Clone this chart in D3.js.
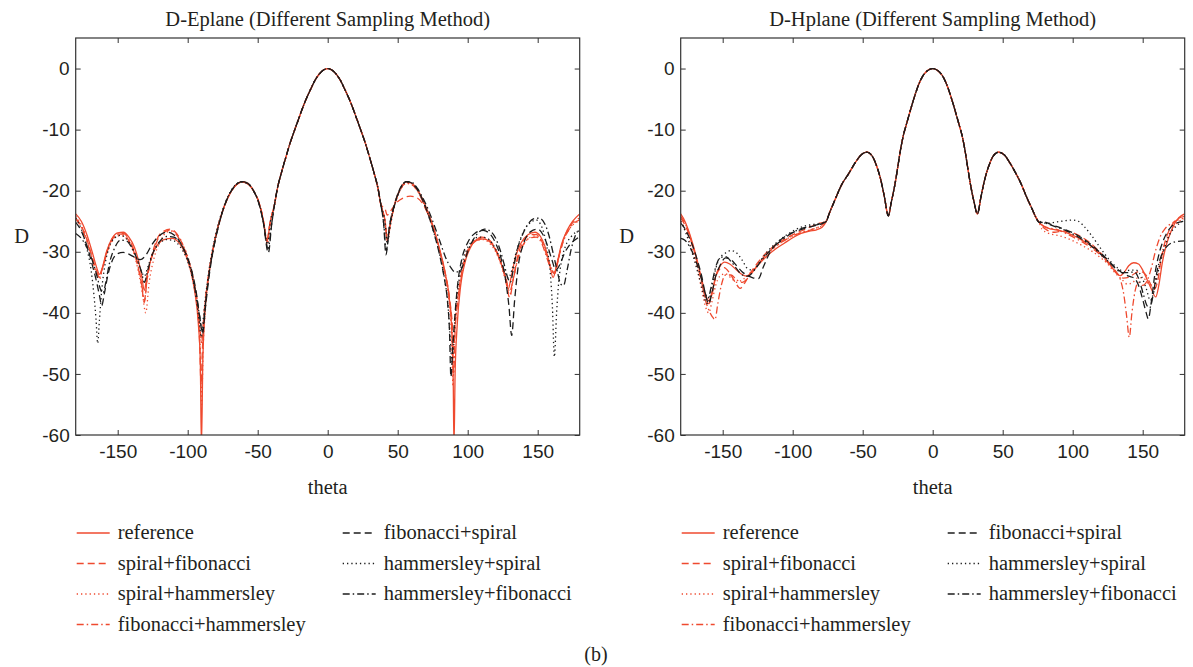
<!DOCTYPE html>
<html>
<head>
<meta charset="utf-8">
<script src="https://cdn.jsdelivr.net/npm/d3@7"></script>
<style>
  body { margin: 0; background: #fff; }
  svg { display: block; font-family: "Liberation Serif", "DejaVu Serif", serif; }
  .tick line { stroke: #333; }
  .tick text { fill: #231f20; font-size: 19px; }
</style>
</head>
<body>
<svg id="fig" width="1193" height="667"></svg>
<script>
// series names, legend order
const seriesNames = ['reference', 'spiral+fibonacci', 'spiral+hammersley', 'fibonacci+hammersley',
    'fibonacci+spiral', 'hammersley+spiral', 'hammersley+fibonacci']

const xTicks = [-150, -100, -50, 0, 50, 100, 150]
const yTicks = [-60, -50, -40, -30, -20, -10, 0]

// ---- E-plane, main lobe (same for all methods), [theta, D]
const eMain = [[-38,-22.3],[-36,-19.7],[-33,-17],[-30,-14.6],[-27,-12.3],[-24,-10.3],[-21,-8.4],[-18,-6.5],[-15,-4.8],[-12,-3.3],[-9,-1.9],[-6,-0.9],[-3,-0.25],[0,0],[3,-0.25],[6,-0.9],[9,-1.9],[12,-3.3],[15,-4.8],[18,-6.5],[21,-8.4],[24,-10.3],[27,-12.3],[30,-14.6],[33,-17],[36,-19.7],[38,-22.3]]

const eRefL = [[-180,-23.8],[-176,-25],[-172,-27.2],[-168,-30.2],[-165,-32.6],[-163,-33.7],[-161,-32.6],[-158,-30],[-154,-27.8],[-150,-26.9],[-146,-26.8],[-142,-27.6],[-138,-29.3],[-135,-31.6],[-133,-33.8],[-131,-36.3],[-129,-33.8],[-126,-31],[-122,-29],[-117,-28],[-111,-27.8],[-106,-28.6],[-102,-30.2],[-98,-33],[-95,-36.5],[-92.5,-41.5],[-91,-48],[-90.2,-62],[-89.2,-48],[-88,-41],[-85,-34],[-81,-28.5],[-76,-24],[-71,-21],[-66,-19.2],[-61,-18.5],[-57,-18.8],[-53,-20],[-49,-22],[-46,-24.8],[-43.4,-28.4],[-41,-25]]
const eRefR = [[41,-25],[42.5,-28.3],[45,-25.2],[48,-22],[52,-19.6],[56,-18.6],[60,-18.8],[64,-19.8],[68,-21.5],[72,-23.7],[76,-26.3],[80,-29.6],[84,-33.6],[87,-38],[88.8,-44],[89.7,-52],[90.2,-62],[91,-50],[92.5,-42],[95,-35.5],[98,-31.8],[102,-29.3],[106,-28.2],[111,-27.9],[116,-28.4],[120,-29.8],[124,-32],[127,-34.2],[129,-36.1],[131,-34.2],[134,-31],[138,-28.6],[143,-27.2],[148,-26.8],[152,-27.5],[155,-29],[158,-31.5],[161,-34.2],[163.5,-32.2],[167,-28.8],[171,-26.5],[175,-25],[180,-23.8]]

const eSFL = [[-180,-24.5],[-176,-25.8],[-172,-28],[-168,-31],[-165,-33.2],[-163,-34],[-161,-32.8],[-158,-30.3],[-154,-28],[-150,-27.1],[-146,-27.1],[-142,-28.2],[-138,-30.3],[-135,-33],[-133,-35.3],[-131,-38.3],[-129,-34.5],[-126,-31],[-122,-28],[-117,-26.6],[-112,-26.3],[-108,-27],[-104,-28.6],[-100,-31],[-96,-34.5],[-93,-39],[-91.3,-46],[-90.5,-52],[-89.5,-46],[-88,-40],[-85,-33.8],[-81,-28.5],[-76,-24],[-71,-21],[-66,-19.2],[-61,-18.6],[-57,-18.9],[-53,-20],[-49,-22],[-46,-24.8],[-43.4,-28],[-41,-25]]
const eSFR = [[41,-23],[42.5,-24],[45,-23.3],[49,-22],[54,-21.2],[59,-20.9],[64,-21.2],[68,-22.2],[72,-24],[76,-26.5],[80,-29.8],[84,-33.5],[87,-37.5],[89,-42],[90,-46],[91,-42],[93,-37.5],[96,-33],[100,-29.8],[105,-28.2],[110,-27.6],[115,-28],[120,-29.6],[124,-32],[127,-34.5],[130,-37.5],[132.5,-34.5],[136,-30.5],[140,-28.2],[145,-27.2],[149,-27.2],[153,-28.3],[156,-30.2],[159,-32.4],[162,-33.6],[165,-31],[168,-28.3],[172,-26.2],[176,-25],[180,-24.5]]

const eSHL = [[-180,-24.2],[-176,-25.6],[-172,-28],[-168,-31.3],[-165,-33.8],[-163,-34.5],[-161,-33],[-158,-30.5],[-154,-28.3],[-150,-27.4],[-146,-27.4],[-142,-28.5],[-138,-30.6],[-135,-33.5],[-132.5,-36.5],[-130,-40],[-127.5,-35],[-124,-31],[-120,-28.5],[-115,-26.8],[-111,-26.6],[-107,-27.3],[-103,-29],[-99,-31.5],[-95.5,-35],[-92.5,-40],[-91,-46],[-90,-55],[-89,-46],[-87.5,-40],[-85,-34],[-81,-28.6],[-76,-24.1],[-71,-21],[-66,-19.2],[-61,-18.6],[-57,-18.9],[-53,-20],[-49,-22.1],[-46,-25],[-43.2,-28.8],[-41,-25.2]]
const eSHR = [[41,-25],[42.5,-28],[45,-25.3],[48,-22.3],[52,-19.8],[56,-18.8],[60,-19],[64,-20],[68,-21.8],[72,-24],[76,-26.7],[80,-30],[84,-34],[86.5,-38],[88.5,-44],[89.5,-52],[90.5,-44],[92,-39],[95,-34],[98,-31],[102,-29],[106,-28.2],[111,-28],[116,-28.7],[120,-30],[124,-32.3],[127,-34.6],[130,-37],[132.5,-34.5],[136,-31],[140,-28.8],[145,-27.6],[149,-27.4],[153,-28.4],[156,-30.3],[159,-32.3],[162,-33.2],[165,-30.8],[168,-28.4],[172,-26.5],[176,-25.4],[180,-25]]

const eFHL = [[-180,-24.6],[-176,-26],[-172,-28.3],[-168,-31.3],[-165,-33.5],[-163,-34.2],[-161,-32.8],[-158,-30.2],[-154,-27.9],[-150,-27.1],[-146,-27],[-142,-28],[-138,-30],[-135,-32.8],[-133,-35],[-131,-38],[-129,-34.5],[-126,-31.2],[-122,-28.3],[-117,-26.8],[-112,-26.5],[-108,-27.2],[-104,-28.8],[-100,-31.2],[-96,-34.6],[-93,-38.5],[-91,-43],[-90,-45],[-89,-42],[-87.5,-38],[-85,-33.5],[-81,-28.5],[-76,-24],[-71,-21],[-66,-19.2],[-61,-18.6],[-57,-18.9],[-53,-20],[-49,-22],[-46,-24.7],[-43.4,-28.2],[-41,-25]]
const eFHR = [[41,-25],[42.5,-27.5],[45,-25],[48,-22.2],[52,-19.8],[56,-18.8],[60,-19],[64,-20],[68,-21.8],[72,-24],[76,-26.6],[80,-29.8],[84,-33.8],[87,-38],[89,-43],[90,-50],[91,-43],[93,-38],[96,-33.5],[100,-30],[104,-28.5],[109,-27.8],[114,-28],[119,-29.2],[123,-31.2],[127,-34],[130,-36.5],[132.5,-34.5],[136,-31],[140,-28.7],[145,-27.7],[149,-27.6],[153,-28.7],[156,-30.6],[159,-32.6],[162,-33.5],[165,-31],[168,-28.5],[172,-26.5],[176,-25.3],[180,-24.8]]

const eFSL = [[-180,-25.2],[-176,-26.6],[-172,-29],[-168,-32.3],[-165,-35],[-163,-37.2],[-161.4,-38.8],[-159.5,-36.8],[-157,-33.8],[-154,-31.5],[-150,-30.3],[-146,-30.1],[-142,-30.4],[-138,-30.9],[-134,-31.3],[-130,-30.6],[-126,-29],[-121,-27.5],[-115,-26.8],[-110,-27.2],[-105,-28.6],[-101,-30.5],[-97,-33.2],[-94,-36.5],[-91.5,-40.5],[-89.3,-43.4],[-87.5,-39.5],[-85,-34.5],[-82,-30],[-78,-25.8],[-73,-22],[-67,-19.4],[-61,-18.5],[-57,-18.8],[-53,-20],[-49,-22.2],[-46,-25.2],[-42.4,-30.2],[-40,-25.5]]
const eFSR = [[40,-25.5],[41.6,-30.5],[44,-26],[48,-22],[52,-19.5],[56,-18.5],[60,-18.7],[64,-19.8],[68,-21.6],[72,-24],[76,-27],[80,-30.6],[83,-34],[85.5,-38],[87,-43],[88,-50.5],[89.5,-45],[91,-40],[93,-35],[96,-31],[100,-28.5],[105,-27],[111,-26.5],[116,-27.1],[120,-28.6],[124,-31.2],[127,-34.5],[129.5,-39],[131.4,-43.7],[133.5,-38],[136,-32.5],[140,-28.6],[145,-26.7],[150,-26.3],[154,-27.3],[157,-29],[160,-31.2],[163,-33],[166,-32],[169,-30.3],[173,-28.8],[177,-28],[180,-27.5]]

const eHSL = [[-180,-24.5],[-176,-26.3],[-172,-29.5],[-169,-33],[-167,-37],[-165.5,-41],[-164.3,-45],[-163,-41],[-161.5,-36.5],[-159,-32],[-156,-29.2],[-152,-27.7],[-148,-27.3],[-144,-27.8],[-140,-29.2],[-136,-31.3],[-133,-33.2],[-131,-34],[-128.5,-32.5],[-125,-30.2],[-120,-28.6],[-115,-28],[-110,-28.2],[-105,-29.3],[-101,-31],[-97,-34],[-94,-37.5],[-91.5,-42],[-90.3,-44],[-88.5,-40],[-86,-35],[-83,-30.5],[-79,-26.2],[-74,-22.5],[-68,-19.6],[-62,-18.6],[-57,-18.9],[-53,-20],[-49,-22.1],[-46,-25],[-43,-28.8],[-41,-25.2]]
const eHSR = [[41,-25.2],[42.5,-28.6],[45,-25.4],[48,-22.2],[52,-19.7],[56,-18.6],[60,-18.8],[64,-19.9],[68,-21.7],[72,-24.1],[76,-27],[80,-30.5],[83.5,-34.5],[86,-39],[87.5,-44],[88.8,-48],[90,-44],[92,-38],[95,-33],[99,-29.8],[103,-28.3],[108,-27.6],[113,-27.7],[118,-28.8],[122,-30.6],[126,-33],[129,-34.3],[131.5,-33],[134,-30.6],[137.5,-28],[141,-26.2],[145,-25.2],[149,-24.8],[152,-25.5],[154.5,-27],[157,-29.8],[159,-33.5],[160.5,-39],[161.9,-47.2],[163.5,-40],[165,-35],[167,-31.5],[170,-29],[174,-27.5],[180,-26.5]]

const eHFL = [[-180,-27],[-176,-27.8],[-172,-29.3],[-168,-31.5],[-165,-33.8],[-162.5,-36],[-160.5,-36.8],[-158.5,-35],[-156,-32],[-152,-29.3],[-148,-28.1],[-144,-28.2],[-140,-29.3],[-136,-31.3],[-133,-33.3],[-131,-35],[-128.5,-33],[-125,-30.3],[-120,-28.3],[-115,-27.5],[-110,-27.6],[-105,-28.7],[-101,-30.5],[-97,-33.5],[-94,-37],[-91.5,-40.5],[-89.5,-43],[-87.5,-39],[-85,-34],[-82,-30],[-78,-25.8],[-73,-22],[-67,-19.4],[-61,-18.5],[-57,-18.8],[-53,-20],[-49,-22.2],[-46,-25.1],[-42.6,-29.5],[-40,-25.4]]
const eHFR = [[40,-25.4],[41.8,-29.8],[44,-26],[48,-22.2],[52,-19.6],[56,-18.5],[60,-18.6],[64,-19.6],[68,-21.2],[72,-23.2],[76,-25.6],[80,-28.2],[84,-30.8],[88,-32.6],[91,-33.3],[94,-33.3],[97,-32],[100,-30],[104,-28],[108,-26.8],[112,-26.3],[116,-26.6],[120,-27.8],[123,-29.6],[126,-32],[128.5,-34.2],[130.5,-35],[132.5,-33],[135,-30],[139,-27.3],[143,-25.5],[147,-24.6],[151,-24.5],[155,-25.4],[158,-27.3],[161,-30.2],[164,-33.2],[166.5,-35.3],[168.5,-35.5],[171,-33],[174,-29.5],[177,-27.3],[180,-26.2]]

// ---- H-plane, main lobe + first side lobes (same for all methods)
const hMain = [[-76,-25],[-74,-23.8],[-70,-21.6],[-65,-19],[-60,-17.2],[-55,-15.3],[-51,-14.1],[-47,-13.7],[-43,-14.4],[-40,-16],[-37,-18.3],[-34.5,-21],[-31.7,-24.1],[-29.5,-21.8],[-27,-19],[-25,-16.2],[-23,-13.3],[-21,-11],[-19,-9.3],[-17,-7.7],[-15,-6.1],[-13,-4.6],[-10,-2.6],[-7,-1.2],[-4,-0.4],[0,0],[4,-0.4],[7,-1.2],[10,-2.6],[13,-4.6],[15,-6.1],[17,-7.7],[19,-9.3],[21,-11],[23,-13.3],[25,-16.2],[27,-19],[29.5,-21.8],[31.9,-23.8],[34.5,-21],[37,-18.3],[40,-16],[43,-14.4],[47,-13.7],[51,-14.1],[55,-15.4],[59,-17],[63,-18.8],[67,-21],[71,-23],[74,-24.5],[76,-25.2]]

const hRefL = [[-180,-23.8],[-177,-25],[-174,-26.8],[-171,-29],[-168,-31.6],[-165,-34.5],[-162.5,-36.8],[-160,-38],[-157.5,-36.5],[-155,-34],[-152,-32.4],[-148.5,-31.7],[-145,-32],[-141,-32.8],[-137,-33.6],[-133,-34],[-129,-33.3],[-124,-32],[-118,-30.6],[-112,-29.5],[-106,-28.6],[-100,-27.7],[-94,-27],[-88,-26.6],[-83,-26.4],[-79,-26]]
const hRefR = [[79,-25.8],[85,-26.3],[90,-26.5],[96,-26.9],[102,-27.5],[108,-28.3],[113,-29],[118,-29.9],[123,-31],[128,-32.5],[131,-33.5],[134,-33.9],[137,-33.3],[140,-32.3],[143.5,-31.8],[147,-32],[150,-33],[153,-34.5],[156,-36],[159.3,-37.4],[161.5,-35.5],[164,-31.8],[167,-28.8],[170,-26.8],[173,-25.3],[176,-24.4],[180,-23.8]]

const hSFL = [[-180,-24.5],[-177,-25.6],[-174,-27.2],[-171,-29.4],[-168,-32],[-165,-35],[-162.5,-37.5],[-160,-38.5],[-157.5,-36.8],[-155,-34.2],[-152,-32.8],[-149,-32.6],[-145,-33.5],[-141,-35],[-137.6,-36],[-134,-35],[-130,-33.4],[-125,-31.8],[-119,-30.2],[-112,-28.8],[-105,-27.8],[-98,-27],[-92,-26.4],[-86,-25.8],[-81,-25.3],[-78,-25.2]]
const hSFR = [[78,-25.8],[82,-26.5],[87,-26.8],[93,-26.6],[99,-26.8],[105,-27.4],[111,-28.3],[117,-29.5],[123,-31],[128,-32.5],[132,-33.6],[136,-34.3],[140,-34.2],[144,-33.6],[148,-33.2],[152,-33.7],[155,-35],[158,-36.2],[160.5,-35],[163,-31.5],[166,-28.3],[170,-26],[175,-24.6],[180,-24.2]]

const hSHL = [[-180,-25],[-177,-26.2],[-174,-28],[-171,-30.3],[-168,-33],[-165,-36.2],[-162.5,-38.8],[-160,-40],[-157.5,-38],[-155,-35.5],[-152,-34],[-148,-33.6],[-144,-34.3],[-140,-35],[-136,-34.6],[-132,-33.8],[-127,-32.6],[-121,-31],[-114,-29.5],[-107,-28.3],[-100,-27.4],[-93,-26.8],[-87,-26.4],[-82,-26],[-78,-25.6]]
const hSHR = [[78,-26.3],[83,-27],[89,-27.3],[95,-27.7],[101,-28.3],[107,-29],[113,-29.8],[119,-30.8],[125,-32],[130,-33.4],[135,-34.5],[139,-35.3],[143,-35],[147,-34.2],[151,-34.4],[155,-35.4],[158,-35.3],[161,-33],[164,-30],[168,-27.5],[172,-26],[176,-25],[180,-24.6]]

const hFHL = [[-180,-24.2],[-177,-25.3],[-174,-27],[-171,-29.3],[-168,-32],[-165,-35],[-162.5,-37.8],[-160,-39.5],[-157.5,-40.6],[-155.5,-41.1],[-153.5,-38.5],[-151,-35.5],[-148,-33.8],[-144,-33.8],[-140,-34.6],[-136,-35],[-132,-34.3],[-127,-32.8],[-121,-31],[-114,-29.4],[-107,-28.3],[-100,-27.4],[-93,-26.8],[-87,-26.4],[-82,-26],[-78,-25.4]]
const hFHR = [[78,-25.6],[83,-26.1],[88,-26.3],[95,-27],[102,-27.8],[109,-28.7],[116,-29.8],[122,-31],[127,-32.3],[131,-33.3],[134,-34.5],[136.5,-37],[138.5,-40.5],[140.4,-44],[142.3,-40],[144.5,-36.5],[147,-35],[150,-35.5],[153,-34.8],[156,-32.8],[159,-30],[162,-27.8],[166,-26.2],[171,-25.3],[175,-24.8],[180,-24.5]]

const hFSL = [[-180,-25.3],[-177,-26.2],[-174,-27.6],[-171,-29.3],[-168,-31.5],[-165,-34],[-162.5,-36.8],[-160,-38.5],[-157.5,-36.6],[-155,-34],[-152,-32.3],[-148,-31],[-144,-31.3],[-140,-32.3],[-136,-33.3],[-132,-33.9],[-128,-34.3],[-124.5,-34.4],[-121,-32.5],[-116,-30],[-110,-28.3],[-104,-27.3],[-97,-26.6],[-90,-26.1],[-84,-25.7],[-79,-25.4]]
const hFSR = [[78,-25],[83,-25.4],[89,-25.9],[95,-26.4],[101,-27],[107,-27.8],[113,-28.8],[119,-30],[125,-31.3],[130,-32.5],[135,-33.4],[140,-34],[144,-34.3],[147,-35.5],[150,-37.8],[152.5,-40],[154,-41],[156,-38.5],[158.5,-34],[161.5,-30.5],[165,-28],[169,-26.3],[174,-25.3],[180,-25]]

const hHSL = [[-180,-25],[-177,-26.5],[-174,-28.5],[-171,-30.8],[-168,-33.2],[-165,-35.8],[-162.5,-38],[-160.5,-38.5],[-158,-36],[-155,-32.8],[-152,-31],[-148,-30.2],[-144,-29.8],[-140,-30.2],[-136,-31.4],[-132,-32.8],[-128,-33],[-124,-31.8],[-119,-30.2],[-113,-28.8],[-106,-27.5],[-99,-26.5],[-92,-25.8],[-85,-25.5],[-79,-25.3]]
const hHSR = [[78,-25.3],[83,-25.3],[89,-25.1],[95,-24.9],[100,-24.8],[104,-25],[108,-25.8],[113,-27.2],[118,-28.8],[123,-30.4],[128,-31.8],[133,-32.8],[137,-33.3],[141,-33],[145,-33],[149,-34],[152.5,-36],[155.5,-38],[158,-36.5],[161,-33.3],[165,-29.8],[169,-27.3],[174,-25.8],[180,-24.8]]

const hHFL = [[-180,-27.8],[-177,-28.1],[-174,-29],[-171,-30.4],[-168,-32.3],[-165,-34.6],[-162.5,-36.8],[-160.5,-37.6],[-158,-35.5],[-155,-32.5],[-152,-31],[-148,-30.8],[-144,-31.6],[-140,-32.8],[-136,-33.8],[-132,-34],[-128,-33.2],[-123,-31.6],[-117,-30],[-110,-28.5],[-103,-27.3],[-96,-26.4],[-89,-25.9],[-83,-25.6],[-78,-25.2]]
const hHFR = [[78,-25.2],[83,-25.5],[89,-26],[95,-26.5],[101,-27.2],[107,-28],[113,-29],[119,-30.2],[125,-31.5],[130,-32.6],[135,-33.4],[140,-33.4],[144,-33.3],[147.5,-34.6],[150.5,-37],[153,-38.8],[155,-39.2],[157.5,-37],[160,-33.5],[163,-30.8],[167,-29.2],[171,-28.5],[175,-28.3],[180,-28.2]]

// assembled in legend order
const eSeries = [
    [...eRefL, ...eMain, ...eRefR],
    [...eSFL, ...eMain, ...eSFR],
    [...eSHL, ...eMain, ...eSHR],
    [...eFHL, ...eMain, ...eFHR],
    [...eFSL, ...eMain, ...eFSR],
    [...eHSL, ...eMain, ...eHSR],
    [...eHFL, ...eMain, ...eHFR],
]
const hSeries = [
    [...hRefL, ...hMain, ...hRefR],
    [...hSFL, ...hMain, ...hSFR],
    [...hSHL, ...hMain, ...hSHR],
    [...hFHL, ...hMain, ...hFHR],
    [...hFSL, ...hMain, ...hFSR],
    [...hHSL, ...hMain, ...hHSR],
    [...hHFL, ...hMain, ...hHFR],
]

const red = '#ef4a2f', black = '#1c1c1c'
const styles = [
    { color: red, dash: null },
    { color: red, dash: '7,4' },
    { color: red, dash: '1.3,3' },
    { color: red, dash: '7,3,1.5,3' },
    { color: black, dash: '7,4' },
    { color: black, dash: '1.3,3' },
    { color: black, dash: '7,3,1.5,3' },
]

const svg = d3.select('#fig')
svg.append('rect').attr('width', 1193).attr('height', 667).attr('fill', '#fff')

const plotW = 504, plotTop = 38, plotBottom = 435

function drawPlot(left, title, series, id) {
    const x = d3.scaleLinear().domain([-180, 180]).range([left, left + plotW])
    const y = d3.scaleLinear().domain([-60, 5]).range([plotBottom, plotTop])
    const g = svg.append('g')

    g.append('clipPath').attr('id', 'clip' + id)
        .append('rect').attr('x', left).attr('y', plotTop).attr('width', plotW).attr('height', plotBottom - plotTop)

    const line = d3.line()
        .x(d => x(d[0]))
        .y(d => y(d[1]))
        .curve(d3.curveMonotoneX)

    g.append('g')
        .attr('clip-path', `url(#clip${id})`)
        .selectAll('path')
        .data(series)
        .join('path')
        .attr('d', line)
        .attr('fill', 'none')
        .attr('stroke', (d, i) => styles[i].color)
        .attr('stroke-width', 1.3)
        .attr('stroke-dasharray', (d, i) => styles[i].dash)

    // axes, ticks pointing inwards on all four sides
    g.append('g').attr('transform', `translate(0,${plotBottom})`)
        .call(d3.axisBottom(x).tickValues(xTicks).tickSize(-5).tickPadding(10).tickFormat(d => String(d)))
        .call(a => a.select('.domain').remove())
    g.append('g').attr('transform', `translate(0,${plotTop})`)
        .call(d3.axisTop(x).tickValues(xTicks).tickSize(-5).tickFormat(''))
        .call(a => a.select('.domain').remove())
    g.append('g').attr('transform', `translate(${left},0)`)
        .call(d3.axisLeft(y).tickValues(yTicks).tickSize(-5).tickPadding(6).tickFormat(d => String(d)))
        .call(a => a.select('.domain').remove())
    g.append('g').attr('transform', `translate(${left + plotW},0)`)
        .call(d3.axisRight(y).tickValues(yTicks).tickSize(-5).tickFormat(''))
        .call(a => a.select('.domain').remove())
    g.selectAll('.tick text').attr('font-family', null).attr('font-size', null)

    g.append('rect')
        .attr('x', left).attr('y', plotTop).attr('width', plotW).attr('height', plotBottom - plotTop)
        .attr('fill', 'none').attr('stroke', '#333').attr('stroke-width', 1.2)

    g.append('text')
        .attr('x', left + plotW / 2).attr('y', 26)
        .attr('text-anchor', 'middle').attr('font-size', 20.5).attr('fill', '#231f20')
        .text(title)
    g.append('text')
        .attr('x', left + plotW / 2).attr('y', 494)
        .attr('text-anchor', 'middle').attr('font-size', 20.5).attr('fill', '#231f20')
        .text('theta')
    g.append('text')
        .attr('x', left - 54).attr('y', 243)
        .attr('text-anchor', 'middle').attr('font-size', 20.5).attr('fill', '#231f20')
        .text('D')

    // legend: two columns
    const leg = g.append('g')
    seriesNames.forEach((name, i) => {
        const col = i < 4 ? 0 : 1
        const row = i < 4 ? i : i - 4
        const lx = left + 1 + col * 266
        const ly = 533 + row * 30.5
        leg.append('line')
            .attr('x1', lx).attr('x2', lx + 33).attr('y1', ly).attr('y2', ly)
            .attr('stroke', styles[i].color).attr('stroke-width', 1.3)
            .attr('stroke-dasharray', styles[i].dash)
        leg.append('text')
            .attr('x', lx + 41).attr('y', ly + 6)
            .attr('font-size', 20.5).attr('fill', '#231f20')
            .text(name)
    })
}

drawPlot(75.7, 'D-Eplane (Different Sampling Method)', eSeries, 'e')
drawPlot(680.7, 'D-Hplane (Different Sampling Method)', hSeries, 'h')

svg.append('text')
    .attr('x', 596).attr('y', 661)
    .attr('text-anchor', 'middle').attr('font-size', 20).attr('fill', '#231f20')
    .text('(b)')
</script>
</body>
</html>
